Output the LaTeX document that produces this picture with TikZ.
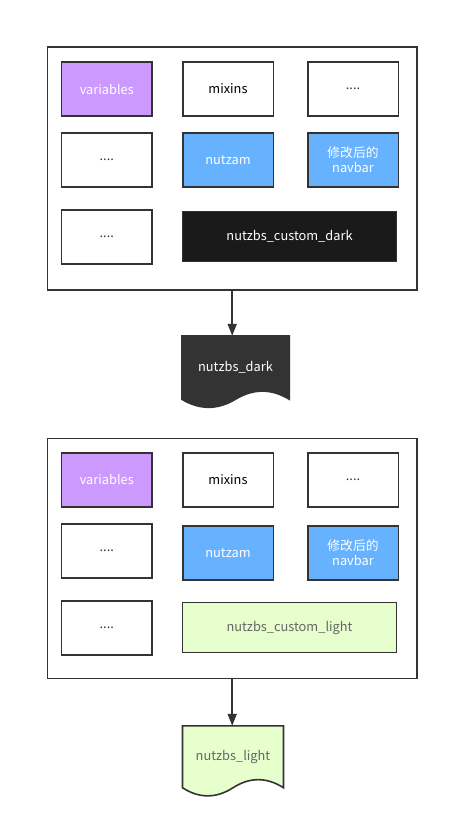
\documentclass[tikz,border=0pt]{standalone}
\usepackage{fontspec}
\setmainfont{Noto Sans CJK SC}
\usetikzlibrary{arrows.meta,calc,backgrounds}
\definecolor{edge}{HTML}{333333}
\definecolor{purp}{HTML}{CC99FF}
\definecolor{blu}{HTML}{66B2FF}
\definecolor{darkbox}{HTML}{1A1A1A}
\definecolor{darkdoc}{HTML}{333333}
\definecolor{lgreen}{HTML}{E6FFCC}
\definecolor{gtext}{HTML}{666666}
\tikzset{
  box/.style={draw=edge, line width=1.5pt, inner sep=0pt, minimum width=90.5pt, minimum height=54pt, align=center, font=\fontsize{12.8}{15}\selectfont},
  container/.style={draw=edge, line width=1.6pt, inner sep=0pt, fill=white},
  docnode/.style={inner sep=0pt, align=center, font=\fontsize{12.8}{15}\selectfont},
  docshape/.style={draw=edge, line width=1.6pt},
  flow/.style={draw=edge, line width=1.6pt, -{Triangle[length=12pt,width=9pt]}}
}
\begin{document}
\begin{tikzpicture}[x=1pt,y=-1pt]
\useasboundingbox (0,0) rectangle (449,828);
% ---------- top group ----------
\node[container, minimum width=369.5pt, minimum height=242.7pt] (c1) at (232.2,168.6) {};
\node[box, fill=purp, text=white] (a1) at (106.8,89) {variables};
\node[box, fill=white, text=black] (a2) at (228,89) {mixins};
\node[box, fill=white, text=edge] (a3) at (353,89) {....};
\node[box, fill=white, text=edge] (a4) at (106.8,159.8) {....};
\node[box, fill=blu, text=white] (a5) at (228,159.8) {nutzam};
\node[box, fill=blu, text=white] (a6) at (353,159.8) {修改后的\\navbar};
\node[box, fill=white, text=edge] (a7) at (106.8,237) {....};
\node[box, fill=darkbox, text=white, minimum width=213.6pt, minimum height=50pt] (a8) at (289.5,236.7) {nutzbs\_custom\_dark};
% document 1
\node[docnode, text=white, minimum width=107pt, minimum height=63pt] (d1) at (235.5,367.5) {nutzbs\_dark};
\begin{scope}[on background layer]
\path[docshape, fill=darkdoc] (d1.north west) -- (d1.north east) -- (d1.south east)
  .. controls ($(d1.south east)+(-17.8,-10.8)$) and ($(d1.south)+(17.8,-10.8)$) .. (d1.south)
  .. controls ($(d1.south)+(-17.8,10.8)$) and ($(d1.south west)+(17.8,10.8)$) .. (d1.south west) -- cycle;
\end{scope}
\draw[flow] (c1.south) -- (c1.south |- d1.north);
% ---------- bottom group ----------
\node[container, minimum width=369.5pt, minimum height=240pt] (c2) at (232.2,558.3) {};
\node[box, fill=purp, text=white] (b1) at (106.8,479.8) {variables};
\node[box, fill=white, text=black] (b2) at (228,479.8) {mixins};
\node[box, fill=white, text=edge] (b3) at (353,479.8) {....};
\node[box, fill=white, text=edge] (b4) at (106.8,551) {....};
\node[box, fill=blu, text=white] (b5) at (228,553) {nutzam};
\node[box, fill=blu, text=white] (b6) at (353,553) {修改后的\\navbar};
\node[box, fill=white, text=edge] (b7) at (106.8,627.8) {....};
\node[box, fill=lgreen, text=gtext, minimum width=213.6pt, minimum height=50pt] (b8) at (289.5,627.7) {nutzbs\_custom\_light};
% document 2
\node[docnode, text=gtext, minimum width=100.6pt, minimum height=61.5pt] (d2) at (233,756.8) {nutzbs\_light};
\begin{scope}[on background layer]
\path[docshape, fill=lgreen] (d2.north west) -- (d2.north east) -- (d2.south east)
  .. controls ($(d2.south east)+(-16.8,-10.8)$) and ($(d2.south)+(16.8,-10.8)$) .. (d2.south)
  .. controls ($(d2.south)+(-16.8,10.8)$) and ($(d2.south west)+(16.8,10.8)$) .. (d2.south west) -- cycle;
\end{scope}
\draw[flow] (c2.south) -- (c2.south |- d2.north);
\end{tikzpicture}
\end{document}
